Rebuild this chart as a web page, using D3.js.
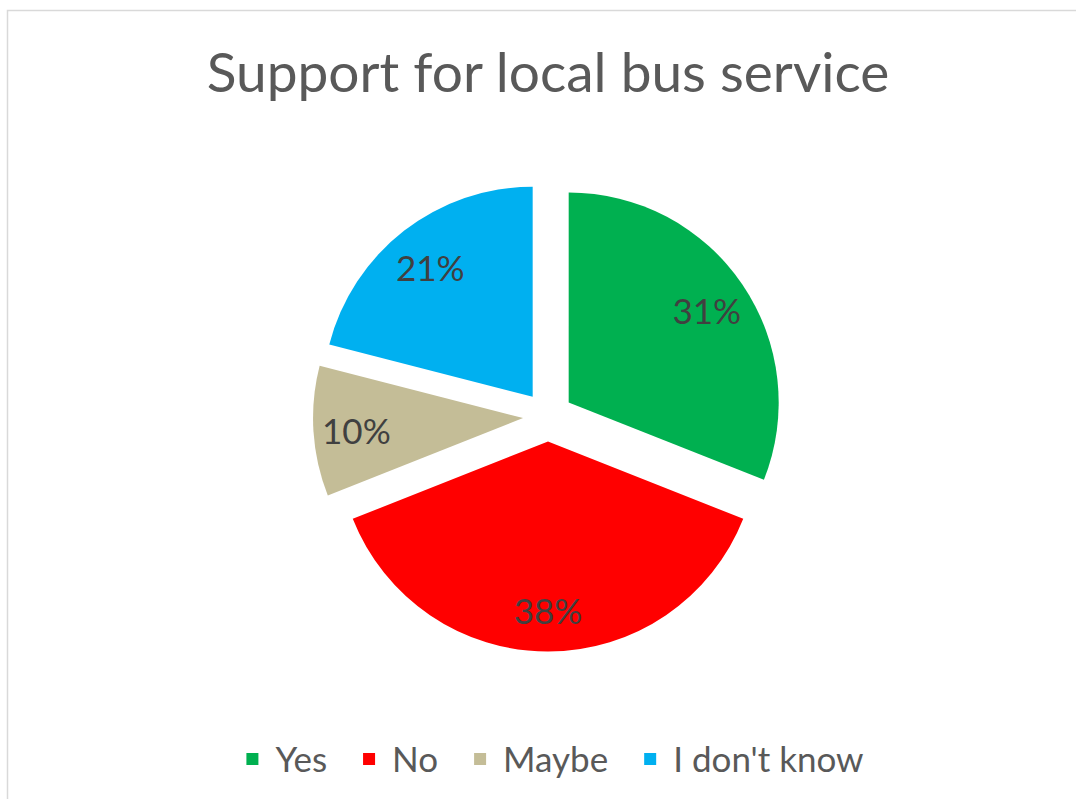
<!DOCTYPE html>
<html>
<head>
<meta charset="utf-8">
<script src="https://cdn.jsdelivr.net/npm/d3@7"></script>
<style>
  html, body { margin: 0; padding: 0; background: #fff; }
  svg { display: block; }
</style>
</head>
<body>
<svg id="chart" width="1076" height="799"></svg>
<script>
// Survey answers and their shares (percent)
const categories = ["Yes", "No", "Maybe", "I don't know"];
const shares = [31, 38, 10, 21];
const colors = ["#00B050", "#FF0000", "#C4BD97", "#00B0F0"];
const title = "Support for local bus service";

const W = 1076, H = 799;
const svg = d3.select("#chart");
const font = "Lato, 'Open Sans', sans-serif";

// chart area frame (runs off the right and bottom edges)
svg.append("rect")
  .attr("x", 7.5).attr("y", 10.5)
  .attr("width", 1200).attr("height", 1000)
  .attr("fill", "#fff")
  .attr("stroke", "#D9D9D9")
  .attr("stroke-width", 1.5);

// title
svg.append("text")
  .attr("x", 548).attr("y", 92)
  .attr("text-anchor", "middle")
  .attr("font-family", font)
  .attr("font-size", 55)
  .attr("fill", "#595959")
  .text(title);

// pie geometry
const cx = 548, cy = 416.5, radius = 210, explode = 25, labelR = 167;

const data = categories.map((c, i) => ({ name: c, value: shares[i], color: colors[i] }));
const pie = d3.pie().value(d => d.value).sort(null);
const arc = d3.arc().innerRadius(0).outerRadius(radius);
const arcs = pie(data);

const g = svg.append("g").attr("transform", `translate(${cx},${cy})`);

const slice = g.selectAll("g.slice")
  .data(arcs)
  .join("g")
  .attr("class", "slice")
  .attr("transform", d => {
    const a = (d.startAngle + d.endAngle) / 2;
    return `translate(${explode * Math.sin(a)},${-explode * Math.cos(a)})`;
  });

slice.append("path")
  .attr("d", arc)
  .attr("fill", d => d.data.color);

slice.append("text")
  .attr("x", d => labelR * Math.sin((d.startAngle + d.endAngle) / 2))
  .attr("y", d => -labelR * Math.cos((d.startAngle + d.endAngle) / 2))
  .attr("dy", "0.45em")
  .attr("text-anchor", "middle")
  .attr("font-family", font)
  .attr("font-size", 35)
  .attr("fill", "#404040")
  .text(d => d.data.value + "%");

// legend
const legend = svg.append("g");
const legendFont = 35, sq = 12, gapSq = 17, gapItem = 36;
const items = legend.selectAll("g.item")
  .data(data)
  .join("g")
  .attr("class", "item");
items.append("rect")
  .attr("width", sq).attr("height", sq)
  .attr("y", -sq / 2 - 1)
  .attr("fill", d => d.color);
items.append("text")
  .attr("x", sq + gapSq)
  .attr("dy", "0.35em")
  .attr("font-family", font)
  .attr("font-size", legendFont)
  .attr("fill", "#595959")
  .text(d => d.name);

// lay out legend entries side by side, centred under the pie
const widths = [];
items.each(function () { widths.push(this.getBBox().width); });
const total = d3.sum(widths) + gapItem * (widths.length - 1);
let x0 = 555 - total / 2;
items.attr("transform", (d, i) => {
  const x = x0;
  x0 += widths[i] + gapItem;
  return `translate(${x},760)`;
});
</script>
</body>
</html>
